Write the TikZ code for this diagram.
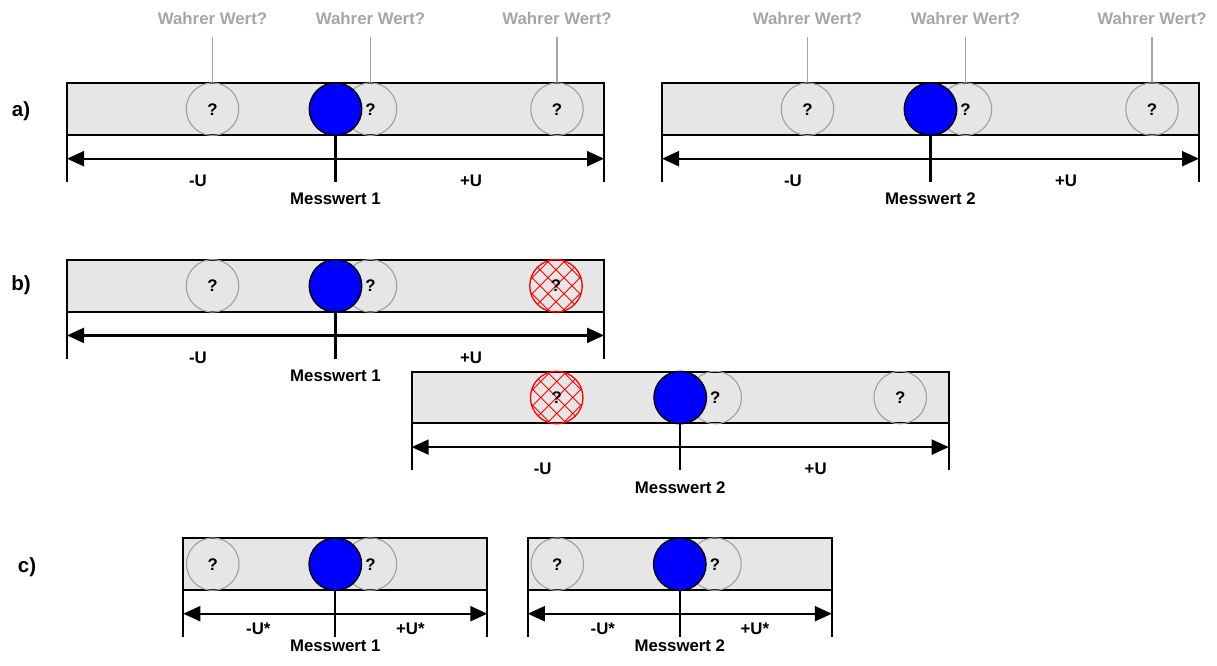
\documentclass[tikz,border=0pt]{standalone}
\usepackage{fontspec}
\setmainfont{Liberation Sans}
\usetikzlibrary{calc,arrows.meta}
\definecolor{barfill}{HTML}{E6E6E6}
\definecolor{wgray}{HTML}{A6A6A6}
\definecolor{cgray}{HTML}{A0A0A0}
\definecolor{mblue}{HTML}{0000FF}
\newcommand{\txtfont}{\bfseries\fontsize{16.8}{18}\selectfont}
\newcommand{\partfont}{\bfseries\fontsize{20.5}{22}\selectfont}
\tikzset{
  bar/.style={draw=black, line width=2pt, fill=barfill, minimum height=51.7pt, inner sep=0pt, outer sep=0pt},
  tw/.style={circle, draw=cgray, line width=1.1pt, minimum size=52.5pt, inner sep=0pt, font=\txtfont},
  meas/.style={circle, draw=black, fill=mblue, line width=1.4pt, minimum size=52.5pt, inner sep=0pt, outer sep=0pt},
  hatchc/.style={circle, draw=red, line width=1.3pt, minimum size=52.5pt, inner sep=0pt, font=\txtfont,
    path picture={
      \foreach \k in {-3,...,3}{
        \draw[red, line width=0.9pt] ($(path picture bounding box.center)+(\k*16-30,-30)$) -- ++(60,60);
        \draw[red, line width=0.9pt] ($(path picture bounding box.center)+(\k*16-30,30)$) -- ++(60,-60);
      }
    }},
  wlabel/.style={font=\txtfont, text=wgray, inner sep=0pt},
  wline/.style={draw=wgray, line width=1.8pt},
  txt/.style={font=\txtfont, inner sep=0pt},
  dimline/.style={line width=2.2pt, {Triangle[length=17pt,width=15pt]}-{Triangle[length=17pt,width=15pt]}},
  tickline/.style={line width=2.2pt},
  part/.style={font=\partfont, inner sep=0pt},
}
% #1 prefix, #2 xL, #3 yT, #4 width, #5 U suffix, #6 U dy, #7 U dx
\newcommand{\mwframe}[7]{%
  \node[bar, minimum width=#4pt, anchor=north west] (#1r) at (#2,#3) {};
  \coordinate (#1tl) at ($(#1r.south west)+(0,47)$);
  \coordinate (#1tr) at ($(#1r.south east)+(0,47)$);
  \coordinate (#1al) at ($(#1r.south west)+(0,23.7)$);
  \coordinate (#1ar) at ($(#1r.south east)+(0,23.7)$);
  \draw[tickline] (#1r.south west) -- (#1tl);
  \draw[tickline] (#1r.south east) -- (#1tr);
  \draw[dimline] (#1al) -- (#1ar);
  \node[txt] (#1mu) at ($(#1r.south west)+(#7,#6)$) {-U#5};
  \node[txt] (#1pu) at ($(#1r.south east)+(-#7-2,#6)$) {+U#5};
}
% #1 prefix, #2 Messwert text, #3 Messwert dy
\newcommand{\mwpoint}[3]{%
  \node[meas] (#1m) at (#1r.center) {};
  \coordinate (#1mb) at ($(#1r.south)+(0,47)$);
  \draw[tickline] (#1m.south) -- (#1mb);
  \node[txt] (#1mw) at ($(#1r.south)+(0,#3)$) {#2};
}
\begin{document}
\begin{tikzpicture}[x=1pt,y=-1pt]
\useasboundingbox (0,0) rectangle (1217,666);

% part labels
\node[part] (pa) at (21,111) {a)};
\node[part] (pb) at (21,285) {b)};
\node[part] (pc) at (27,567) {c)};

% ---------- a) left
\mwframe{aa}{67}{83.3}{537}{}{45.7}{131}
\node[tw] (aag1) at ($(aar.west)+(145.5,0)$) {?};
\node[tw] (aag2) at ($(aar.west)+(303.5,0)$) {?};
\node[tw] (aag3) at ($(aar.west)+(490,0)$) {?};
\mwpoint{aa}{Messwert 1}{64}
\foreach \i in {1,2,3}{
  \node[wlabel] (aaw\i) at ($(aag\i.center)+(0,-90.8)$) {Wahrer Wert?};
  \draw[wline, shorten <=12pt] (aaw\i.south) -- (aag\i.north);
}

% ---------- a) right
\mwframe{ab}{662}{83.3}{537}{}{45.7}{131}
\node[tw] (abg1) at ($(abr.west)+(145.5,0)$) {?};
\node[tw] (abg2) at ($(abr.west)+(303.5,0)$) {?};
\node[tw] (abg3) at ($(abr.west)+(490,0)$) {?};
\mwpoint{ab}{Messwert 2}{64}
\foreach \i in {1,2,3}{
  \node[wlabel] (abw\i) at ($(abg\i.center)+(0,-90.8)$) {Wahrer Wert?};
  \draw[wline, shorten <=12pt] (abw\i.south) -- (abg\i.north);
}

% ---------- b) top
\mwframe{ba}{67}{260}{537}{}{45.7}{131}
\node[tw] (bag1) at ($(bar.west)+(145.5,0)$) {?};
\node[tw] (bag2) at ($(bar.west)+(303.5,0)$) {?};
\node[hatchc] (bah) at ($(bar.west)+(489,0)$) {?};
\mwpoint{ba}{Messwert 1}{64}

% ---------- b) bottom
\mwframe{bb}{411.7}{371.7}{537}{}{45.7}{131}
\node[hatchc] (bbh) at ($(bbr.west)+(145,0)$) {?};
\node[tw] (bbg2) at ($(bbr.west)+(303.5,0)$) {?};
\node[tw] (bbg3) at ($(bbr.west)+(488.5,0)$) {?};
\mwpoint{bb}{Messwert 2}{64}

% ---------- c) left
\mwframe{ca}{183.3}{538.3}{304}{*}{38.6}{75}
\node[tw] (cag1) at ($(car.west)+(29.5,0)$) {?};
\node[tw] (cag2) at ($(car.west)+(187.2,0)$) {?};
\mwpoint{ca}{Messwert 1}{56}

% ---------- c) right
\mwframe{cb}{527.8}{538.3}{304}{*}{38.6}{75}
\node[tw] (cbg1) at ($(cbr.west)+(29.5,0)$) {?};
\node[tw] (cbg2) at ($(cbr.west)+(187.2,0)$) {?};
\mwpoint{cb}{Messwert 2}{56}

\end{tikzpicture}
\end{document}
